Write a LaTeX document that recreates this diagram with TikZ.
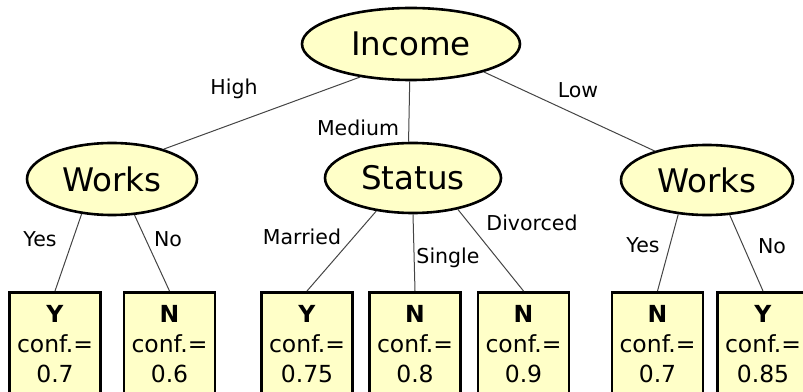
\documentclass[tikz,border=0pt]{standalone}
\usepackage{fontspec}
\setmainfont{DejaVu Sans}
\usetikzlibrary{shapes.geometric}
\definecolor{paleyellow}{HTML}{FFFFC8}
\definecolor{edgegray}{HTML}{444444}
\begin{document}
\begin{tikzpicture}
  [x=1pt,y=1pt,
   split/.style={ellipse,draw,line width=2.6pt,fill=paleyellow,inner sep=0pt,
                 font=\fontsize{32.5}{39}\selectfont},
   leaf/.style={rectangle,draw,line width=2.6pt,fill=paleyellow,anchor=north,
                minimum width=91pt,minimum height=104pt,inner sep=0pt,align=center,
                font=\fontsize{23.5}{30}\selectfont},
   lbl/.style={inner sep=0pt,font=\fontsize{20.5}{24}\selectfont}]
  \useasboundingbox (0,0) rectangle (803,391);
  \node[split,minimum width=218pt,minimum height=72pt] (income) at (411,347) {Income};
  \node[split,minimum width=170pt,minimum height=72pt] (worksA) at (112,212) {Works};
  \node[split,minimum width=176pt,minimum height=70pt] (status) at (413,213) {Status};
  \node[split,minimum width=172pt,minimum height=70pt] (worksB) at (707,211) {Works};

  \node[leaf] (boxA) at (55,100)    {\textbf{Y}\\conf.=\\0.7};
  \node[leaf] (boxB) at (169.5,100) {\textbf{N}\\conf.=\\0.6};
  \node[leaf] (boxC) at (307,100)   {\textbf{Y}\\conf.=\\0.75};
  \node[leaf] (boxD) at (415,100)   {\textbf{N}\\conf.=\\0.8};
  \node[leaf] (boxE) at (523.5,100) {\textbf{N}\\conf.=\\0.9};
  \node[leaf] (boxF) at (657.5,100) {\textbf{N}\\conf.=\\0.7};
  \node[leaf] (boxG) at (763,100)   {\textbf{Y}\\conf.=\\0.85};

  \foreach \from/\to in {income.213/worksA.30, income.268/status.97, income.339/worksB.151,
                         worksA.229/boxA.north, worksA.302/boxB.north,
                         status.222/boxC.north, status.270/boxD.north, status.325/boxE.north,
                         worksB.230/boxF.north, worksB.303/boxG.north}
    \draw[edgegray,line width=1pt] (\from) -- (\to);

  \node[lbl] (lHigh) at (234,302) {High};
  \node[lbl] (lMedium) at (358,263) {Medium};
  \node[lbl] (lLow) at (578,301) {Low};
  \node[lbl] (lYesA) at (40,152) {Yes};
  \node[lbl] (lNoA) at (168,152) {No};
  \node[lbl] (lMarried) at (302,154) {Married};
  \node[lbl] (lSingle) at (448,133) {Single};
  \node[lbl] (lDivorced) at (532,168) {Divorced};
  \node[lbl] (lYesB) at (643,146) {Yes};
  \node[lbl] (lNoB) at (772,145) {No};
\end{tikzpicture}
\end{document}
